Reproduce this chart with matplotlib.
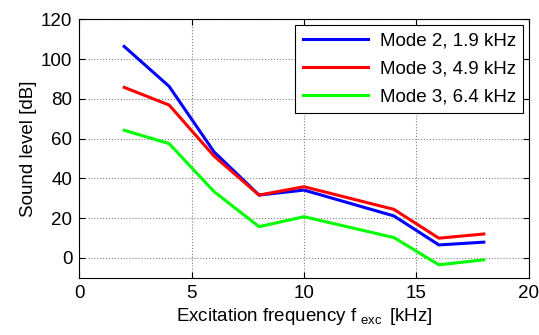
import matplotlib
matplotlib.use("Agg")
import matplotlib.pyplot as plt

plt.rcParams["font.family"] = ["Liberation Sans", "DejaVu Sans"]
plt.rcParams["mathtext.fontset"] = "custom"
plt.rcParams["mathtext.rm"] = "Liberation Sans"
plt.rcParams["mathtext.it"] = "Liberation Sans:italic"

# Excitation frequency [kHz]
freq = [2, 4, 6, 8, 10, 14, 16, 18]

# Sound level [dB]
mode2_19 = [106.4, 86.3, 53.3, 31.6, 34.1, 21.1, 6.5, 7.9]
mode3_49 = [85.8, 76.9, 51.2, 31.6, 35.8, 24.4, 9.9, 12.0]
mode3_64 = [64.2, 57.5, 33.3, 15.7, 20.7, 10.2, -3.5, -1.0]

labels = ["Mode 2, 1.9 kHz", "Mode 3, 4.9 kHz", "Mode 3, 6.4 kHz"]
colors = ["#0000ff", "#ff0000", "#00ff00"]

fs = 13.5

fig = plt.figure(figsize=(5.39, 3.35), dpi=100)
ax = fig.add_axes([0.147, 0.171, 0.834, 0.771])

for ys, lab, c in zip([mode2_19, mode3_49, mode3_64], labels, colors):
    ax.plot(freq, ys, color=c, lw=2.2, label=lab)

ax.set_xlim(0, 20)
ax.set_ylim(-10, 120)
ax.set_xticks([0, 5, 10, 15, 20])
ax.set_yticks([0, 20, 40, 60, 80, 100, 120])
ax.grid(True, linestyle=":", color="#808080", lw=0.8)
ax.tick_params(direction="in", top=True, right=True, labelsize=fs, length=4.5, width=0.8, pad=5)
for sp in ax.spines.values():
    sp.set_linewidth(0.8)

ax.set_xlabel(r"Excitation frequency f$\,\,_{\mathrm{exc}}\,$ [kHz]", fontsize=fs, labelpad=3)
ax.set_ylabel("Sound level [dB]", fontsize=fs, labelpad=3)

leg = ax.legend(loc="upper right", fontsize=fs, fancybox=False, framealpha=1,
                edgecolor="black", borderaxespad=0.3, handlelength=3.5,
                labelspacing=0.58, borderpad=0.4, handletextpad=0.6)
leg.get_frame().set_linewidth(0.8)

fig.savefig("out.png", dpi=100)
